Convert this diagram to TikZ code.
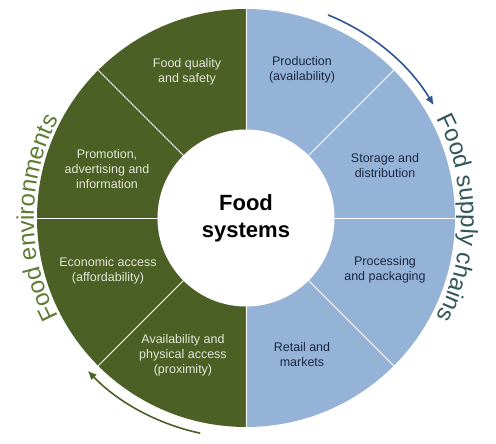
\documentclass[tikz,border=0pt]{standalone}
\usepackage{fontspec}
\setmainfont{Liberation Sans}
\usepackage{tikz}
\usetikzlibrary{arrows.meta,decorations.text}
\definecolor{envgreen}{RGB}{76,96,37}
\definecolor{chainblue}{RGB}{149,179,215}
\definecolor{envtext}{RGB}{94,124,52}
\definecolor{chaintext}{RGB}{49,87,90}
\definecolor{paletext}{RGB}{228,230,216}
\definecolor{darktext}{RGB}{28,40,66}
\definecolor{chainarrow}{RGB}{46,85,151}

\begin{document}
\begin{tikzpicture}[x=1pt,y=1pt,
    greenlabel/.style={align=center,text=paletext,font=\fontsize{12.5}{15}\selectfont},
    bluelabel/.style={align=center,text=darktext,font=\fontsize{12.5}{15}\selectfont},
    divider/.style={draw=white,line width=0.9pt},
    ringarrow/.style={line width=1.6pt,-{Latex[length=9pt,width=8pt]}}]
        \useasboundingbox (-246,-226) rectangle (250,218);
        \fill [envgreen] (0,0) -- (90:209) arc (90:270:209) -- cycle;
        \fill [chainblue] (0,0) -- (-90:209) arc (-90:90:209) -- cycle;
        \foreach \a in {0,45,...,315}
            \draw [divider] (0,0) -- (\a:209);
        \node [shape=circle,fill=white,minimum size=177pt,inner sep=0pt,align=center,font=\bfseries\fontsize{22}{27}\selectfont] (hub) at (0,0) {Food\\systems};
        \node [greenlabel] (quality) at (-59,146) {Food quality\\and safety};
        \node [greenlabel] (promotion) at (-139,49) {Promotion,\\advertising and\\information};
        \node [greenlabel] (economic) at (-138,-53) {Economic access\\(affordability)};
        \node [greenlabel] (physical) at (-63,-137) {Availability and\\physical access\\(proximity)};
        \node [bluelabel] (production) at (56,148) {Production\\(availability)};
        \node [bluelabel] (storage) at (139,52) {Storage and\\distribution};
        \node [bluelabel] (processing) at (139,-52) {Processing\\and packaging};
        \node [bluelabel] (retail) at (56,-137) {Retail and\\markets};
        \path [decorate,decoration={text along path,text align=center,text color=envtext,
            text={|\fontsize{24}{24}\selectfont|Food environments}}] (240:212) arc (240:120:212);
        \path [decorate,decoration={text along path,text align=center,text color=chaintext,
            text={|\fontsize{24}{24}\selectfont|Food supply chains}}] (60:215) arc (60:-60:215);
        \coordinate (chainstart) at (68:219);
        \coordinate (envstart) at (258:220);
        \draw [ringarrow,chainarrow] (chainstart) arc (68:31:219);
        \draw [ringarrow,envgreen] (envstart) arc (258:224:220);
\end{tikzpicture}
\end{document}
